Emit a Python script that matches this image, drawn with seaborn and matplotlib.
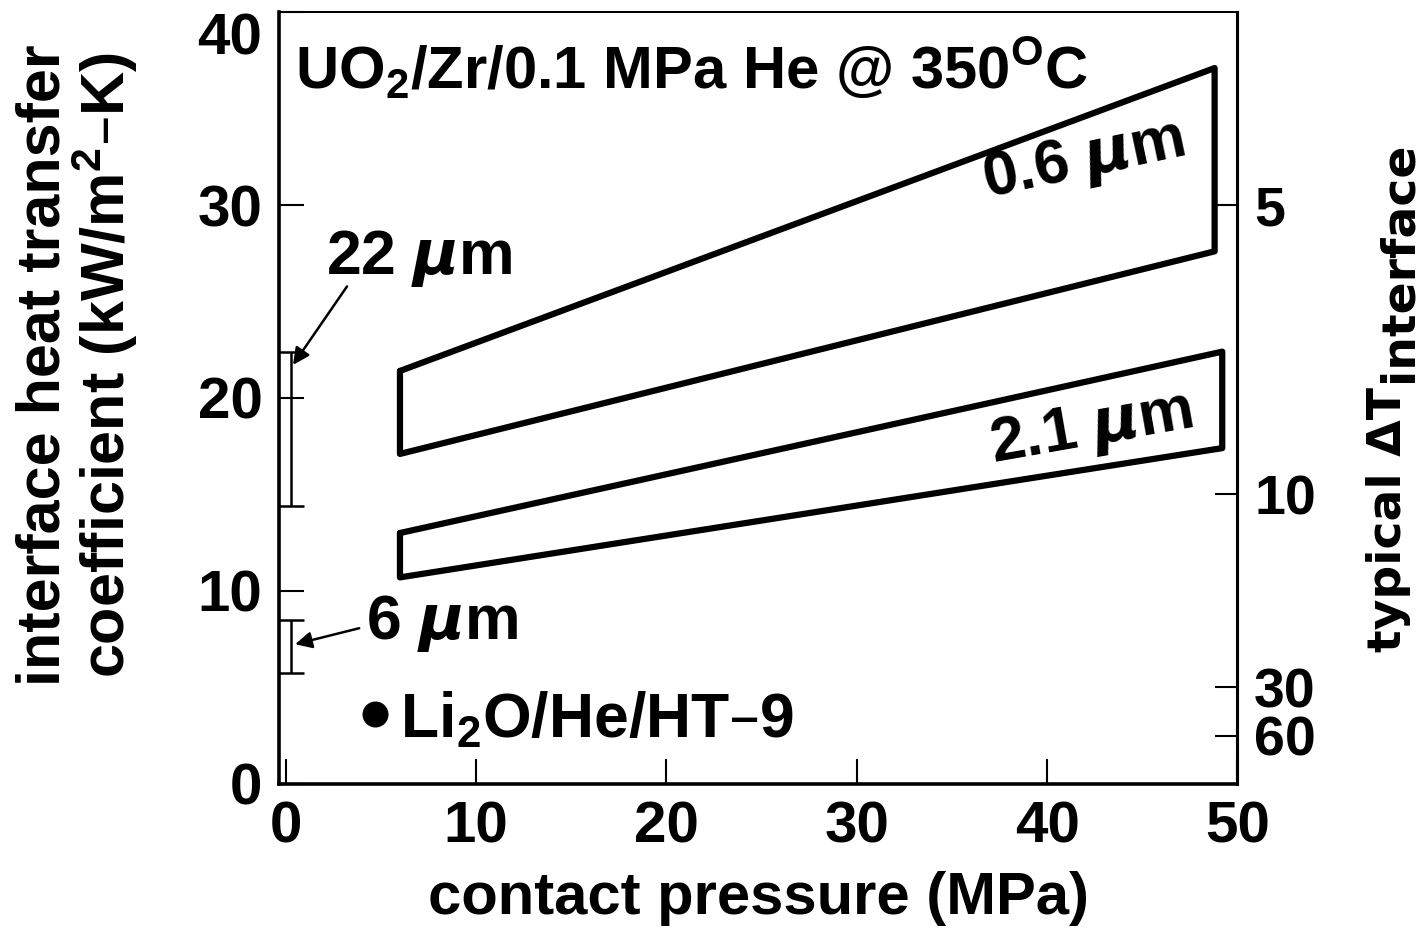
import numpy as np
import matplotlib
matplotlib.use('Agg')
import matplotlib.pyplot as plt
import seaborn as sns
import pandas as pd

sns.set_theme(style="ticks")
plt.rcParams['font.family'] = ['Liberation Sans', 'DejaVu Sans']
plt.rcParams['font.weight'] = 'bold'
for key in ['text.color', 'axes.labelcolor', 'xtick.color', 'ytick.color',
            'axes.edgecolor']:
    plt.rcParams[key] = 'black'

# --- data ---
# 0.6 um band (corners: left x, right x)
band06_x = [6.0, 48.8]
band06_upper = [21.4, 37.1]
band06_lower = [17.1, 27.6]
# 2.1 um band
band21_x = [6.0, 49.2]
band21_upper = [13.0, 22.4]
band21_lower = [10.7, 17.4]
# ranges at zero contact pressure
range_labels = ["22 $\\mu$m", "6 $\\mu$m"]
range_low = [14.4, 5.75]
range_high = [22.4, 8.5]
# Li2O/He/HT-9 point
li2o_x = [4.7]
li2o_y = [3.6]
# right axis: typical delta T for h (150 kW/m2 heat flux)
heat_flux = 150.0
dT_ticks = [5, 10, 30, 60]

TICK_FS = 42
LABEL_FS = 43
NOTE_FS = 45


def closed_loop(xs, upper, lower):
    # walk around the band: upper left->right, lower right->left, back to start
    px = [xs[0], xs[1], xs[1], xs[0], xs[0]]
    py = [upper[0], upper[1], lower[1], lower[0], upper[0]]
    return pd.DataFrame({'x': px, 'y': py})


fig = plt.figure(figsize=(14.24, 9.32), dpi=100)
ax = fig.add_axes([0.196, 0.159, 0.673, 0.828])

for xs, up, lo in [(band06_x, band06_upper, band06_lower),
                   (band21_x, band21_upper, band21_lower)]:
    df = closed_loop(xs, up, lo)
    sns.lineplot(data=df, x='x', y='y', sort=False, estimator=None,
                 color='black', linewidth=4.5, ax=ax)

# zero-pressure ranges
for lo, hi in zip(range_low, range_high):
    mid = (lo + hi) / 2
    ax.errorbar([0.25], [mid], yerr=[[mid - lo], [hi - mid]], fmt='none',
                ecolor='black', elinewidth=1.8, capsize=9, capthick=1.8,
                clip_on=False)

sns.scatterplot(x=li2o_x, y=li2o_y, color='black', s=300, ax=ax,
                edgecolor='black', zorder=5)

ax.set_xlim(-0.35, 50)
ax.set_ylim(0, 40)
ax.set_xticks([0, 10, 20, 30, 40, 50])
ax.set_yticks([0, 10, 20, 30, 40])
ax.tick_params(direction='in', length=18, width=1.5, labelsize=TICK_FS,
               pad=12)
for lab in ax.get_xticklabels() + ax.get_yticklabels():
    lab.set_fontweight('bold')
ax.get_yticklabels()[-1].set_verticalalignment('top')
ax.set_xlabel("contact pressure (MPa)", fontsize=LABEL_FS, fontweight='bold',
              labelpad=12)
ax.set_ylabel("interface heat transfer\ncoefficient (kW/m$^\\mathdefault{2}$–K)",
              fontsize=44, fontweight='bold', linespacing=0.95)
ax.yaxis.set_label_coords(-0.145, 0.543)

for side, lw in [('left', 2.6), ('bottom', 2.6), ('right', 2.2), ('top', 1.4)]:
    ax.spines[side].set_visible(True)
    ax.spines[side].set_linewidth(lw)

ax2 = ax.twinx()
ax2.set_ylim(ax.get_ylim())
ax2.set_yticks([heat_flux / t for t in dT_ticks])
ax2.set_yticklabels([str(t) for t in dT_ticks])
ax2.tick_params(direction='in', length=16, width=1.5, labelsize=40,
                pad=12)
for lab in ax2.get_yticklabels():
    lab.set_fontweight('bold')
ax2.spines['right'].set_linewidth(2.2)

# right axis title: big lowered subscript, drawn as two rotated pieces
fig.text(1401 / 1424, 1 - 652 / 932, "typical ΔT", fontsize=34,
         fontweight='bold', family='DejaVu Sans', rotation=90,
         rotation_mode='anchor', ha='left', va='baseline')
fig.text(1412 / 1424, 1 - 382 / 932, "interface", fontsize=34,
         fontweight='bold', family='DejaVu Sans', rotation=90,
         rotation_mode='anchor', ha='left', va='baseline')

# annotations
ax.text(0.5, 36.0, "UO$_\\mathdefault{2}$/Zr/0.1 MPa He @ 350$^\\mathdefault{O}$C",
        fontsize=LABEL_FS, fontweight='bold', ha='left', va='baseline')
ax.text(2.1, 26.4, range_labels[0], fontsize=NOTE_FS, fontweight='bold',
        ha='left', va='baseline')
ax.text(4.2, 7.5, range_labels[1], fontsize=NOTE_FS, fontweight='bold',
        ha='left', va='baseline')
ax.annotate("", xy=(0.3, 21.6), xytext=(3.3, 25.9),
            arrowprops=dict(arrowstyle='-|>', color='black', lw=1.8,
                            mutation_scale=25))
ax.annotate("", xy=(0.35, 7.2), xytext=(4.0, 8.1),
            arrowprops=dict(arrowstyle='-|>', color='black', lw=1.8,
                            mutation_scale=25))
ax.text(41.9, 32.3, "0.6 $\\mu$m", fontsize=NOTE_FS, fontweight='bold',
        ha='center', va='center', rotation=12)
ax.text(42.3, 18.4, "2.1 $\\mu$m", fontsize=NOTE_FS, fontweight='bold',
        ha='center', va='center', rotation=10)
ax.text(6.0, 2.4, "Li$_\\mathdefault{2}$O/He/HT–9", fontsize=NOTE_FS,
        fontweight='bold', ha='left', va='baseline')

fig.savefig('out.png', dpi=100)
